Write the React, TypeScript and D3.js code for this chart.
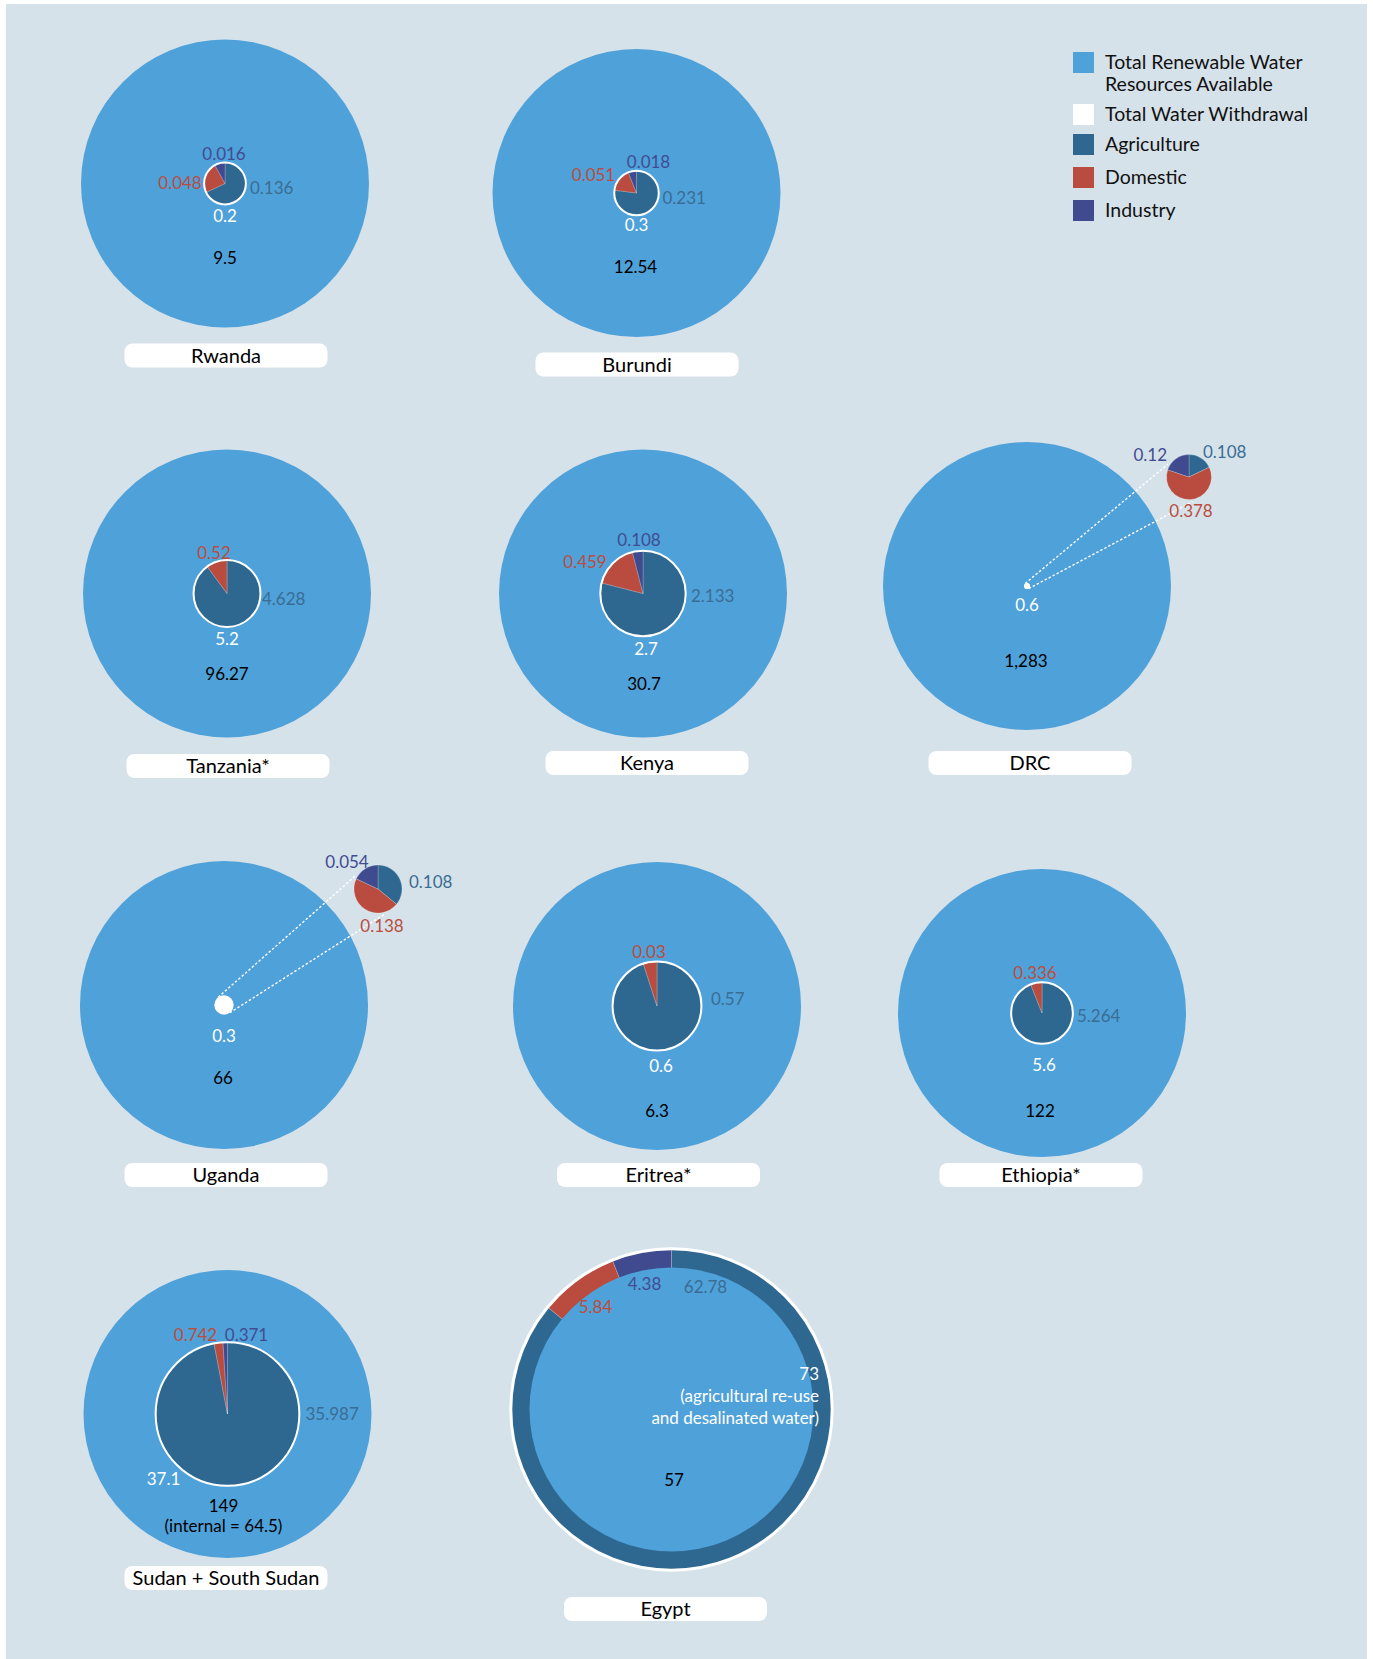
import React from 'react';
import * as d3 from 'd3';

// values in km3/year
const countries = ['Rwanda', 'Burundi', 'Tanzania*', 'Kenya', 'DRC', 'Uganda', 'Eritrea*', 'Ethiopia*', 'Sudan + South Sudan', 'Egypt'];
const totalResources = [9.5, 12.54, 96.27, 30.7, 1283, 66, 6.3, 122, 149, 57];
const totalWithdrawal = [0.2, 0.3, 5.2, 2.7, 0.6, 0.3, 0.6, 5.6, 37.1, 73];
const agriculture = [0.136, 0.231, 4.628, 2.133, 0.108, 0.108, 0.57, 5.264, 35.987, 62.78];
const domestic = [0.048, 0.051, 0.52, 0.459, 0.378, 0.138, 0.03, 0.336, 0.742, 5.84];
const industry = [0.016, 0.018, 0, 0.108, 0.12, 0.054, 0, 0, 0.371, 4.38];
const resourceNotes = ['', '', '', '', '', '', '', '', '(internal = 64.5)', ''];
const withdrawalNotes = [[], [], [], [], [], [], [], [], [], ['(agricultural re-use', 'and desalinated water)']];
const legendLabels = [['Total Renewable Water', 'Resources Available'], ['Total Water Withdrawal'], ['Agriculture'], ['Domestic'], ['Industry']];

// layout
const centers = [[225, 183.5], [636.5, 193], [227, 593.5], [643, 593.5], [1027, 586], [224, 1005], [657, 1006], [1042, 1013], [227.5, 1414], [671.5, 1409.5]];
const boxCenters = [[226, 355.5], [637, 364.5], [228, 766], [647, 763], [1030, 763], [226, 1175], [658.5, 1175], [1041, 1175], [226, 1578], [665.5, 1609]];
const bigR = [144, 144, 144, 144, 144, 144, 144, 144, 144, 142];
const exploded = { 4: { dx: 162, dy: -109, r: 22.5 }, 5: { dx: 154, dy: -116, r: 24 } };

type Lab = [string, number, number] | null;
// [anchor, dx, dy] relative to the sector pie centre
const indLab: Lab[] = [['middle', -1, -30], ['middle', 12, -32], null, ['middle', -4, -54], ['end', -22, -23], ['middle', -31, -28], null, null, ['middle', 19, -80], ['middle', -27, -126]];
const domLab: Lab[] = [['middle', -45, -1], ['middle', -43, -18.5], ['middle', -13, -41], ['middle', -58, -32], ['middle', 2, 33], ['middle', 4, 36], ['middle', -8, -55], ['middle', -7, -41], ['middle', -32, -80], ['middle', -76, -103]];
const agriLab: Lab[] = [['start', 25, 4], ['start', 26, 4.5], ['start', 35, 4.5], ['start', 48, 2], ['start', 14, -26], ['start', 31, -8], ['start', 54, -8], ['start', 35, 2], ['start', 78, -1], ['middle', 34, -123]];
const wdLab: Lab[] = [['middle', 0, 32], ['middle', 0, 31], ['middle', 0, 44.5], ['middle', 3, 55], ['middle', 0, 18.5], ['middle', 0, 30], ['middle', 4, 59], ['middle', 2, 51], ['middle', -64, 64], ['end', 147.5, -36]];
const resLab: Lab[] = [['middle', 0, 74], ['middle', -1, 73], ['middle', 0, 80], ['middle', 1, 90], ['middle', -1, 74], ['middle', -1, 72], ['middle', 0, 104], ['middle', -2, 97], ['middle', -4, 91.5], ['middle', 2.5, 70]];

const C = {
  bg: '#d6e2ea',
  res: '#4fa1d9',
  agri: '#2e6890',
  dom: '#b94c3f',
  ind: '#3f4a8f',
  agriText: '#3a6d93',
  domText: '#bb4d40',
  indText: '#414c92',
};
const FONT = 'Lato, "Open Sans", sans-serif';
const fmt = d3.format(',');

const Country = ({ i }: { i: number }) => {
  const [cx, cy] = centers[i];
  const r = d3.scaleSqrt().domain([0, totalResources[i]]).range([0, bigR[i]]);
  const wr = r(totalWithdrawal[i]);
  const sectors = [
    { key: 'agri', v: agriculture[i], fill: C.agri },
    { key: 'dom', v: domestic[i], fill: C.dom },
    { key: 'ind', v: industry[i], fill: C.ind },
  ].filter((d) => d.v > 0);
  const ex = exploded[i];
  const pr = ex ? ex.r : wr;
  const px = ex ? cx + ex.dx : cx;
  const py = ex ? cy + ex.dy : cy;
  const arcs = d3.pie<any>().sort(null).value((d) => d.v)(sectors);
  const arc = d3.arc<any>().innerRadius(0).outerRadius(pr);
  const outside = totalWithdrawal[i] > totalResources[i];

  const txt = (lab: Lab, x0: number, y0: number, s: string, fill: string, key: string) =>
    lab ? (
      <text key={key} x={x0 + lab[1]} y={y0 + lab[2]} textAnchor={lab[0] as any} dominantBaseline="central" fill={fill} fontSize={17}>
        {s}
      </text>
    ) : null;

  const pie = (
    <g transform={`translate(${px},${py})`}>
      {arcs.map((a, k) => (
        <path key={k} d={arc(a) || ''} fill={a.data.fill} stroke="rgba(255,255,255,0.35)" strokeWidth={0.6} />
      ))}
      {!ex && <circle r={pr} fill="none" stroke="#fff" strokeWidth={outside ? 3 : 2} />}
    </g>
  );

  let leaders = null;
  if (ex) {
    const d = Math.hypot(ex.dx, ex.dy);
    const ux = ex.dx / d, uy = ex.dy / d;
    const nx = -uy, ny = ux;
    leaders = [-1, 1].map((s) => (
      <line
        key={s}
        x1={cx + s * wr * nx}
        y1={cy + s * wr * ny}
        x2={px + s * pr * nx - 0.45 * pr * ux}
        y2={py + s * pr * ny - 0.45 * pr * uy}
        stroke="#fff"
        strokeWidth={1.4}
        strokeDasharray="2.5,2"
      />
    ));
  }

  const [bx, by] = boxCenters[i];
  const wl = wdLab[i]!;
  return (
    <g>
      {outside && pie}
      <circle cx={cx} cy={cy} r={r(totalResources[i])} fill={C.res} />
      {!outside && ex && <circle cx={cx} cy={cy} r={wr} fill="#fff" />}
      {leaders}
      {!outside && pie}
      {txt(agriLab[i], px, py, fmt(agriculture[i]), C.agriText, 'a')}
      {txt(domLab[i], px, py, fmt(domestic[i]), C.domText, 'd')}
      {industry[i] > 0 && txt(indLab[i], px, py, fmt(industry[i]), C.indText, 'n')}
      {txt(wl, cx, cy, fmt(totalWithdrawal[i]), '#fff', 'w')}
      {withdrawalNotes[i].map((s, k) => txt([wl[0], wl[1], wl[2] + 22 * (k + 1)], cx, cy, s, '#fff', 'wn' + k))}
      {txt(resLab[i], cx, cy, fmt(totalResources[i]), '#000', 'r')}
      {resourceNotes[i] && txt([resLab[i]![0], resLab[i]![1], resLab[i]![2] + 19.5], cx, cy, resourceNotes[i], '#000', 'rn')}
      <rect x={bx - 101.5} y={by - 12} width={203} height={24} rx={8} fill="#fff" />
      <text x={bx} y={by - 1} textAnchor="middle" dominantBaseline="central" fontSize={20} fill="#000">
        {countries[i]}
      </text>
    </g>
  );
};

const legendColors = [C.res, '#fff', C.agri, C.dom, C.ind];
const legendY = [52, 104, 134, 167, 200];

export default function App() {
  return (
    <svg width={1373} height={1659} style={{ position: 'absolute', left: 0, top: 0 }} fontFamily={FONT}>
      <rect x={0} y={0} width={1373} height={1659} fill="#fff" />
      <rect x={6} y={4} width={1361} height={1655} fill={C.bg} />
      {countries.map((_, i) => (
        <Country key={i} i={i} />
      ))}
      <g>
        {legendLabels.map((lines, k) => (
          <g key={k}>
            <rect x={1073} y={legendY[k]} width={21} height={21} fill={legendColors[k]} />
            {lines.map((s, j) => (
              <text key={j} x={1105} y={legendY[k] + 9.5 + j * 21.5} dominantBaseline="central" fontSize={19.5} fill="#111">
                {s}
              </text>
            ))}
          </g>
        ))}
      </g>
    </svg>
  );
}
